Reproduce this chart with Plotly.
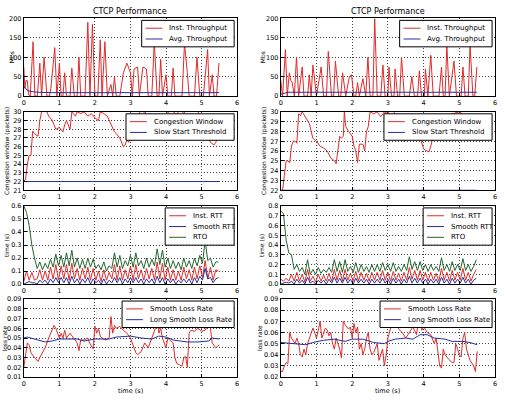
import plotly.graph_objects as go

# ---------------- data ----------------
# Row 1: throughput (Mbs)
T_THR_L = [0,0.03,0.06,0.1,0.13,0.18,0.26,0.31,0.38,0.45,0.5,0.57,0.65,0.72,0.76,0.87,0.93,1.0,1.05,1.1,
           1.15,1.2,1.3,1.35,1.42,1.5,1.55,1.6,1.72,1.8,1.86,1.93,2.0,2.08,2.15,2.2,2.28,2.35,2.45,2.5,
           2.55,2.6,2.7,2.8,2.9,2.95,3.0,3.05,3.1,3.2,3.25,3.35,3.45,3.5,3.6,3.67,3.75,3.8,3.85,3.9,
           4.0,4.05,4.15,4.2,4.25,4.45,4.52,4.6,4.65,4.8,4.87,4.95,5.05,5.17,5.22,5.3,5.35,5.42,5.49]
INST_THR_L = [75,20,40,40,5,0,140,0,0,85,0,100,0,0,20,125,0,85,0,0,
              60,0,0,72,0,0,100,0,0,190,0,185,0,0,145,0,140,0,30,0,
              50,0,0,60,85,70,60,0,70,75,0,75,70,0,0,140,0,0,95,0,
              55,0,0,72,0,0,135,60,0,0,100,0,0,120,0,55,0,0,85]
T_AVG_L = [0,0.1,0.2,0.4,0.8,1.5,2.5,3.5,4.5,5.49]
AVG_THR_L = [25,15,12,10,9,9,9,9,9,9]

T_THR_R = [0,0.05,0.13,0.18,0.24,0.28,0.32,0.38,0.44,0.5,0.6,0.65,0.75,0.8,0.85,0.9,1.0,1.13,1.2,1.28,
           1.33,1.42,1.48,1.53,1.62,1.68,1.73,1.82,1.92,1.98,2.05,2.1,2.15,2.2,2.3,2.38,2.44,2.5,2.58,2.63,
           2.7,2.8,2.86,2.92,3.0,3.03,3.1,3.17,3.2,3.27,3.33,3.38,3.46,3.6,3.67,3.74,3.83,3.88,3.94,4.02,
           4.05,4.12,4.2,4.27,4.43,4.5,4.55,4.6,4.65,4.72,4.85,4.92,5.05,5.1,5.16,5.25,5.3,5.38,5.43,5.49]
INST_THR_R = [40,0,120,0,60,40,35,0,100,0,75,0,0,55,0,80,0,75,0,0,
              115,0,0,90,0,0,60,0,50,55,0,0,35,0,45,0,100,0,0,200,
              0,0,80,0,0,75,0,0,70,0,0,100,0,0,50,0,0,65,0,0,
              70,0,105,0,0,75,0,0,130,0,90,0,0,75,0,0,130,0,0,75]
T_AVG_R = [0,0.1,0.2,0.5,1,2,3,4,5,5.49]
AVG_THR_R = [5,8,10,10,10,10,10,10,10,10]

# Row 2: congestion window (packets)
T_CW_L = [0,0.05,0.1,0.15,0.2,0.25,0.3,0.4,0.45,0.5,0.55,0.65,0.7,0.8,0.85,0.9,1.0,1.1,1.15,1.2,
          1.3,1.35,1.45,1.5,1.6,1.7,1.8,1.9,2.0,2.1,2.15,2.25,2.35,2.45,2.55,2.6,2.7,2.8,2.85,2.9,
          2.95,3.0,3.05,3.2,3.3,3.4,3.5,3.6,3.7,3.8,4.0,4.05,4.15,4.3,4.4,4.5,4.6,4.8,5.0,5.1,
          5.2,5.25,5.35,5.4,5.5]
CWND_L = [22,22.3,24,25,25,27.8,27.5,27.2,29,30,30.2,30,29.5,29,28.5,28,28.2,27.7,28.5,29,
          28,30,29.5,30,29.8,30,29.5,29.8,29.3,29,30,29.8,29.5,28.5,27.7,27.5,27,26,26.2,26.8,
          26.5,27,28,29,30.5,29.8,30.5,31,30.2,31,31,29.9,30.2,29.7,30.3,29.8,30.5,31,29,28,
          27,26.5,26.2,26.5,27.5]
T_SS_L = [0,5.5]
SSTHRESH_L = [22,22]

T_CW_R = [0,0.05,0.1,0.15,0.2,0.25,0.3,0.35,0.4,0.45,0.5,0.55,0.6,0.65,0.7,0.75,0.8,0.85,0.9,1.0,
          1.1,1.2,1.3,1.4,1.5,1.55,1.6,1.65,1.7,1.75,1.78,1.82,1.9,2.0,2.05,2.1,2.15,2.2,2.3,2.35,
          2.4,2.45,2.5,2.6,2.7,2.8,2.9,3.0,3.1,3.3,3.45,3.55,3.7,3.85,4.0,4.1,4.15,4.2,4.3,4.4,
          4.6,4.8,5.0,5.2,5.5]
CWND_R = [22,22,23.5,25,25,24.8,26.5,27,27,26.8,29.8,29.6,30,29.7,29.4,29.2,28.8,28,27.3,27,
          26.5,26.3,26,25.3,25,24.7,26,27.5,27.3,27.5,30,28.5,28,27.5,26.5,26,24.8,26.7,26.7,26,
          28,28.5,30,29.8,30,29.5,30,29.8,30.5,29,27,27.5,27.2,28,26.2,26,25.9,26.5,28,28.5,
          29.5,29.8,30,29.5,29.8]
T_SS_R = [0,5.5]
SSTHRESH_R = [22,22]

# Row 3: RTT / RTO (s), sampled every 0.075 s
T_RTT = [round(i * 0.075, 3) for i in range(74)]
RTO_L = [0.6,0.55,0.45,0.3,0.2,0.12,0.17,0.11,0.16,0.12,
         0.19,0.13,0.23,0.14,0.22,0.13,0.24,0.14,0.26,0.13,
         0.2,0.12,0.19,0.12,0.2,0.13,0.19,0.12,0.15,0.11,
         0.17,0.1,0.14,0.12,0.24,0.13,0.22,0.12,0.18,0.14,
         0.22,0.13,0.24,0.14,0.18,0.12,0.2,0.13,0.19,0.14,
         0.27,0.15,0.26,0.13,0.2,0.12,0.18,0.12,0.17,0.11,
         0.2,0.13,0.18,0.12,0.2,0.14,0.22,0.16,0.33,0.18,
         0.2,0.13,0.17,0.17]
INST_RTT_L = [0.02,0.1,0.03,0.09,0.03,0.04,0.11,0.03,0.1,0.03,
              0.13,0.04,0.15,0.03,0.14,0.04,0.15,0.03,0.16,0.04,
              0.12,0.03,0.12,0.04,0.13,0.03,0.12,0.03,0.1,0.02,
              0.11,0.03,0.09,0.04,0.15,0.03,0.14,0.03,0.11,0.04,
              0.14,0.03,0.15,0.04,0.11,0.03,0.12,0.04,0.12,0.03,
              0.17,0.04,0.16,0.03,0.13,0.03,0.11,0.03,0.1,0.03,
              0.13,0.04,0.11,0.03,0.13,0.04,0.14,0.05,0.18,0.04,
              0.13,0.03,0.11,0.1]
SMOOTH_RTT_L = [0.0,0.01,0.02,0.01,0.01,0.0,0.03,0.01,0.03,0.0,
                0.04,0.01,0.05,0.01,0.05,0.01,0.05,0.0,0.06,0.01,
                0.04,0.0,0.04,0.01,0.05,0.0,0.04,0.01,0.03,0.0,
                0.04,0.0,0.03,0.01,0.05,0.01,0.05,0.0,0.04,0.01,
                0.05,0.01,0.05,0.01,0.04,0.0,0.04,0.01,0.04,0.0,
                0.06,0.01,0.05,0.0,0.04,0.01,0.04,0.0,0.03,0.01,
                0.04,0.01,0.04,0.0,0.05,0.01,0.06,0.03,0.12,0.04,
                0.05,0.01,0.04,0.05]
RTO_R = [0.75,0.72,0.45,0.32,0.3,0.15,0.2,0.13,0.17,0.1,
         0.25,0.1,0.15,0.1,0.17,0.11,0.15,0.12,0.17,0.12,
         0.25,0.13,0.23,0.12,0.25,0.13,0.18,0.12,0.22,0.12,
         0.2,0.13,0.18,0.12,0.2,0.13,0.2,0.13,0.22,0.14,
         0.2,0.13,0.22,0.13,0.18,0.13,0.2,0.14,0.28,0.15,
         0.23,0.14,0.23,0.14,0.2,0.13,0.2,0.14,0.18,0.13,
         0.27,0.14,0.2,0.13,0.23,0.14,0.2,0.14,0.26,0.14,
         0.2,0.13,0.18,0.25]
INST_RTT_R = [0.05,0.03,0.06,0.03,0.1,0.03,0.12,0.03,0.1,0.02,
              0.15,0.03,0.08,0.02,0.1,0.03,0.09,0.03,0.11,0.03,
              0.15,0.04,0.14,0.03,0.15,0.04,0.11,0.03,0.13,0.03,
              0.12,0.04,0.11,0.03,0.12,0.04,0.12,0.04,0.14,0.04,
              0.12,0.03,0.13,0.04,0.11,0.03,0.12,0.04,0.17,0.05,
              0.14,0.04,0.14,0.04,0.12,0.03,0.12,0.04,0.11,0.03,
              0.16,0.04,0.12,0.03,0.14,0.04,0.12,0.04,0.16,0.04,
              0.12,0.03,0.1,0.15]
SMOOTH_RTT_R = [0.0,0.01,0.02,0.01,0.03,0.0,0.05,0.01,0.04,0.0,
                0.07,0.01,0.03,0.0,0.04,0.01,0.04,0.0,0.05,0.01,
                0.07,0.01,0.06,0.01,0.07,0.01,0.05,0.0,0.06,0.01,
                0.05,0.01,0.05,0.0,0.05,0.01,0.05,0.01,0.06,0.01,
                0.05,0.0,0.06,0.01,0.05,0.0,0.05,0.01,0.08,0.01,
                0.06,0.01,0.06,0.01,0.05,0.0,0.05,0.01,0.05,0.0,
                0.07,0.01,0.05,0.0,0.06,0.01,0.05,0.01,0.07,0.01,
                0.05,0.0,0.04,0.06]

# Row 4: loss rate
T_LOSS_L = [0,0.05,0.1,0.15,0.2,0.3,0.4,0.45,0.5,0.6,0.7,0.8,0.85,0.9,0.95,1.0,1.05,1.1,1.15,1.2,
            1.3,1.4,1.5,1.55,1.6,1.7,1.8,1.85,1.9,1.95,2.0,2.05,2.1,2.15,2.2,2.3,2.4,2.45,2.5,2.55,
            2.6,2.7,2.8,2.9,3.0,3.05,3.1,3.15,3.2,3.3,3.4,3.5,3.6,3.7,3.75,3.8,3.85,3.9,4.0,4.05,
            4.1,4.2,4.25,4.3,4.4,4.45,4.5,4.55,4.6,4.65,4.7,4.8,4.9,5.0,5.1,5.2,5.25,5.3,5.4,5.5]
SMOOTH_LOSS_L = [0.02,0.033,0.045,0.043,0.035,0.03,0.026,0.03,0.033,0.04,0.05,0.06,0.063,0.06,0.055,0.05,0.055,0.05,0.058,0.05,
                 0.055,0.05,0.045,0.037,0.048,0.048,0.05,0.045,0.042,0.039,0.062,0.055,0.06,0.052,0.05,0.048,0.05,0.072,0.055,0.063,
                 0.06,0.062,0.058,0.055,0.05,0.045,0.04,0.035,0.033,0.036,0.045,0.04,0.05,0.06,0.068,0.055,0.06,0.05,0.04,0.05,
                 0.048,0.045,0.03,0.024,0.022,0.021,0.03,0.031,0.02,0.055,0.058,0.057,0.06,0.057,0.058,0.065,0.06,0.045,0.04,0.043]
T_LONG_L = [0,0.1,0.4,0.6,0.8,1.0,1.5,1.7,2.0,2.4,2.6,3.0,3.3,3.6,3.8,4.0,4.2,4.6,4.9,5.2,5.3,5.5]
LONG_LOSS_L = [0.05,0.051,0.048,0.046,0.047,0.049,0.049,0.047,0.049,0.049,0.051,0.052,0.05,0.049,0.052,0.051,0.048,0.046,0.046,0.047,0.05,0.049]

T_LOSS_R = [0,0.05,0.1,0.15,0.2,0.25,0.3,0.35,0.4,0.45,0.5,0.55,0.6,0.65,0.7,0.75,0.8,0.85,0.9,0.95,
            1.0,1.05,1.1,1.15,1.2,1.25,1.3,1.35,1.4,1.45,1.5,1.55,1.6,1.65,1.7,1.75,1.8,
            1.9,1.95,2.0,2.05,2.1,2.15,2.2,2.25,2.3,2.35,2.4,2.45,2.5,2.55,2.6,
            2.7,2.75,2.8,2.85,2.9,2.95,3.0,3.05,3.1,
            3.2,3.25,3.3,3.4,3.5,3.6,3.7,3.8,3.9,3.95,4.0,
            4.1,4.2,4.3,4.35,4.45,4.5,4.55,4.6,4.7,4.8,4.85,4.9,4.95,5.0,5.05,5.1,5.15,5.2,
            5.3,5.35,5.4,5.45,5.5]
SMOOTH_LOSS_R = [0.025,0.025,0.03,0.033,0.032,0.06,0.055,0.052,0.05,0.055,0.05,0.04,0.038,0.045,0.04,0.05,0.055,0.06,0.064,0.06,
                 0.055,0.062,0.07,0.055,0.06,0.064,0.062,0.057,0.06,0.05,0.045,0.055,0.05,0.045,0.037,0.07,0.067,
                 0.063,0.065,0.055,0.068,0.06,0.065,0.045,0.05,0.04,0.045,0.055,0.06,0.045,0.04,0.042,
                 0.05,0.035,0.04,0.045,0.03,0.04,0.055,0.06,0.067,
                 0.065,0.07,0.063,0.06,0.055,0.06,0.065,0.058,0.08,0.062,0.065,
                 0.06,0.058,0.05,0.055,0.03,0.028,0.045,0.04,0.036,0.033,0.033,0.05,0.045,0.04,0.038,0.055,0.06,0.045,
                 0.035,0.033,0.03,0.025,0.043]
T_LONG_R = [0,0.5,0.7,0.9,1.2,1.5,1.8,2.0,2.3,2.6,2.9,3.0,3.2,3.5,3.7,3.9,4.1,4.3,4.6,4.8,5.1,5.3,5.5]
LONG_LOSS_R = [0.051,0.05,0.049,0.051,0.053,0.054,0.052,0.054,0.054,0.051,0.05,0.052,0.054,0.055,0.054,0.058,0.058,0.055,0.054,0.052,0.052,0.051,0.049]

TITLE = "CTCP Performance"
YLABELS = ["Mbs", "Congestion window (packets)", "time (s)", "loss rate"]
XLABEL = "time (s)"

# ---------------- styling / layout ----------------
W, H = 505, 407
RED, BLUE, GREEN = "#e02a2a", "#23309a", "#23652e"
FONT = "DejaVu Sans"
XPIX = [(22, 237), (281, 497)]
YPIX = [(14.7, 94), (110, 190), (206, 285.7), (301, 380.5)]
# horizontal centre (px) of each row's y-axis label, per column
YLABEL_X = [[9, 5, 4, 2.5], [262, 264, 261, 259]]

YRANGES = {
    (0, 0): ([0, 200], 50, None), (0, 1): ([0, 200], 50, None),
    (1, 0): ([21, 30], 1, None), (1, 1): ([22, 30], 1, None),
    (2, 0): ([0, 0.6], 0.1, ".1f"), (2, 1): ([0, 0.8], 0.1, ".1f"),
    (3, 0): ([0.01, 0.09], 0.01, ".2f"), (3, 1): ([0.02, 0.09], 0.01, ".2f"),
}

panels = {
    (0, 0): [(T_THR_L, INST_THR_L, "Inst. Throughput", RED), (T_AVG_L, AVG_THR_L, "Avg. Throughput", BLUE)],
    (0, 1): [(T_THR_R, INST_THR_R, "Inst. Throughput", RED), (T_AVG_R, AVG_THR_R, "Avg. Throughput", BLUE)],
    (1, 0): [(T_CW_L, CWND_L, "Congestion Window", RED), (T_SS_L, SSTHRESH_L, "Slow Start Threshold", BLUE)],
    (1, 1): [(T_CW_R, CWND_R, "Congestion Window", RED), (T_SS_R, SSTHRESH_R, "Slow Start Threshold", BLUE)],
    (2, 0): [(T_RTT, INST_RTT_L, "Inst. RTT", RED), (T_RTT, SMOOTH_RTT_L, "Smooth RTT", BLUE), (T_RTT, RTO_L, "RTO", GREEN)],
    (2, 1): [(T_RTT, INST_RTT_R, "Inst. RTT", RED), (T_RTT, SMOOTH_RTT_R, "Smooth RTT", BLUE), (T_RTT, RTO_R, "RTO", GREEN)],
    (3, 0): [(T_LOSS_L, SMOOTH_LOSS_L, "Smooth Loss Rate", RED), (T_LONG_L, LONG_LOSS_L, "Long Smooth Loss Rate", BLUE)],
    (3, 1): [(T_LOSS_R, SMOOTH_LOSS_R, "Smooth Loss Rate", RED), (T_LONG_R, LONG_LOSS_R, "Long Smooth Loss Rate", BLUE)],
}

def px(x):
    return x / W

def py(y):
    return 1 - y / H

fig = go.Figure()
layout = dict(
    width=W, height=H, margin=dict(l=0, r=0, t=0, b=0),
    paper_bgcolor="white", plot_bgcolor="white",
    font=dict(family=FONT, size=7, color="black"),
    showlegend=False, annotations=[], shapes=[],
)

for (r, c), series in panels.items():
    k = r * 2 + c
    sfx = "" if k == 0 else str(k + 1)
    for xs, ys, name, col in series:
        fig.add_trace(go.Scatter(x=xs, y=ys, mode="lines", name=name,
                                 line=dict(color=col, width=1),
                                 xaxis="x" + sfx, yaxis="y" + sfx))
    x0, x1 = XPIX[c]
    y0, y1 = YPIX[r]
    yr, dt, fmt = YRANGES[(r, c)]
    axcommon = dict(showline=True, mirror=True, linecolor="black", linewidth=1,
                    showgrid=True, gridcolor="#444444", griddash="1px,2px", gridwidth=0.8,
                    ticks="inside", ticklen=3, tickcolor="black", zeroline=False,
                    tickfont=dict(size=6.5, family=FONT))
    layout["xaxis" + sfx] = dict(domain=[px(x0), px(x1)], range=[0, 6], dtick=1, tick0=0,
                                 anchor="y" + sfx, **axcommon)
    ya = dict(domain=[py(y1), py(y0)], range=yr, dtick=dt, tick0=0,
              anchor="x" + sfx, **axcommon)
    if fmt:
        ya["tickformat"] = fmt
    layout["yaxis" + sfx] = ya

    # legend box (upper right of each panel)
    names = [s[2] for s in series]
    bw = 30 + 3.95 * max(len(n) for n in names)
    xr = x1 - 3
    xl = xr - bw
    yt = y0 + 2
    yb = yt + 5 + 11 * len(names)
    layout["shapes"].append(dict(type="rect", xref="paper", yref="paper",
                                 x0=px(xl), x1=px(xr), y0=py(yb), y1=py(yt),
                                 line=dict(color="black", width=1), fillcolor="white", layer="above"))
    for i, (xs, ys, name, col) in enumerate(series):
        yc = yt + 8 + 11 * i
        layout["shapes"].append(dict(type="line", xref="paper", yref="paper",
                                     x0=px(xl + 4), x1=px(xl + 21), y0=py(yc), y1=py(yc),
                                     line=dict(color=col, width=1), layer="above"))
        layout["annotations"].append(dict(
            text=name, x=px(xl + 26), y=py(yc), xref="paper", yref="paper",
            xanchor="left", yanchor="middle", showarrow=False,
            font=dict(size=7, family=FONT)))

    # y-axis label
    layout["annotations"].append(dict(
        text=YLABELS[r], x=px(YLABEL_X[c][r]), y=py((y0 + y1) / 2), xref="paper", yref="paper",
        xanchor="center", yanchor="middle", textangle=-90, showarrow=False,
        font=dict(size=6, family=FONT)))

for c in range(2):
    x0, x1 = XPIX[c]
    layout["annotations"].append(dict(
        text=TITLE, x=px((x0 + x1) / 2), y=py(8), xref="paper", yref="paper",
        xanchor="center", yanchor="middle", showarrow=False, font=dict(size=8, family=FONT)))
    layout["annotations"].append(dict(
        text=XLABEL, x=px((x0 + x1) / 2), y=py(395), xref="paper", yref="paper",
        xanchor="center", yanchor="middle", showarrow=False, font=dict(size=6.5, family=FONT)))

fig.update_layout(**layout)
fig.write_html("out.html")
